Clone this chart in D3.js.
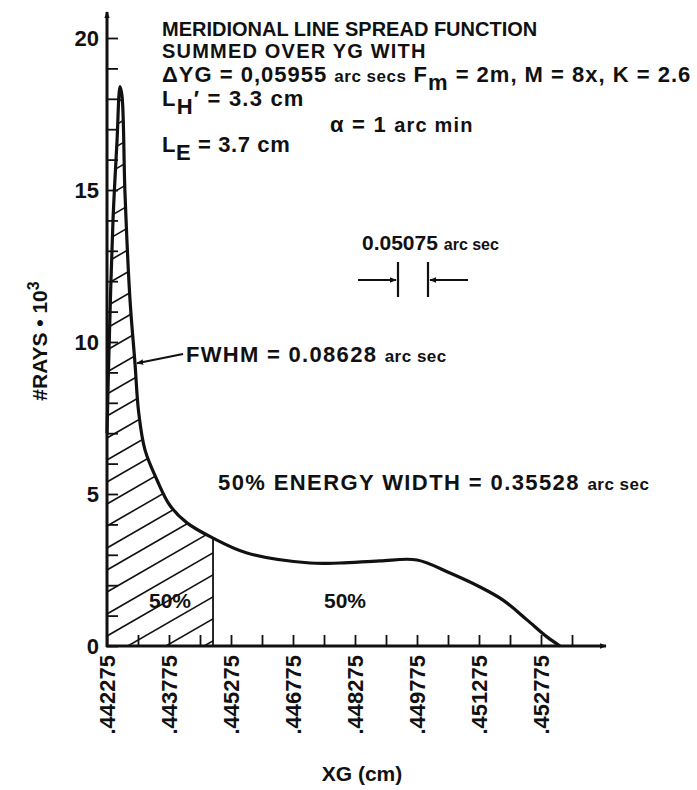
<!DOCTYPE html>
<html><head><meta charset="utf-8">
<script src="https://cdn.jsdelivr.net/npm/d3@7"></script>
<style>
body{margin:0;background:#fff}
text{font-family:"Liberation Sans",Arial,Helvetica,sans-serif;font-weight:bold;fill:#111}
</style>
</head><body><svg id="c" width="697" height="790"></svg>
<script>
// ---- data ----
const xTickValues = [0.442275,0.443775,0.445275,0.446775,0.448275,0.449775,0.451275,0.452775];
const xTickLabels = [".442275",".443775",".445275",".446775",".448275",".449775",".451275",".452775"];
const xMinorStep = 0.00075;
const yTickValues = [0,5,10,15,20];
const yTickLabels = ["0","5","10","15","20"];
const curveXG   = [0.442275,0.442323,0.442420,0.442517,0.442590,0.442638,0.442710,0.442831,0.442952,0.443040,0.443194,0.443485,0.443799,0.444210,0.444840,0.445662,0.447186,0.447912,0.448880,0.449775,0.450573,0.451300,0.451856,0.452436,0.452920,0.453235];
const curveRays = [7.0,9.7,14.0,16.6,18.4,18.1,14.9,11.4,9.3,7.7,6.45,5.46,4.62,4.05,3.55,3.06,2.73,2.73,2.80,2.83,2.40,1.94,1.51,0.86,0.30,0];
const halfEnergyXG = 0.444840;
const fwhmIndex = 8;

const svg = d3.select("#c");
const x = d3.scaleLinear().domain([0.442275, 0.453525]).range([107, 572]);
const y = d3.scaleLinear().domain([0, 20]).range([646, 38]);
const pts = curveXG.map((v,i)=>({x:v, y:curveRays[i]}));
const ink = "#111";
const curveType = d3.curveCatmullRom.alpha(0.5);

// arrow marker
const defs = svg.append("defs");
defs.append("marker").attr("id","ah").attr("viewBox","0 0 10 10").attr("refX",9).attr("refY",5)
  .attr("markerWidth",7).attr("markerHeight",7).attr("orient","auto-start-reverse").attr("markerUnits","userSpaceOnUse")
  .append("path").attr("d","M0,1 L10,5 L0,9 z").attr("fill",ink);

// hatched region (50% energy)
const hatchPts = pts.filter(p=>p.x<=halfEnergyXG);
const area = d3.area().x(d=>x(d.x)).y0(y(0)).y1(d=>y(d.y)).curve(curveType);
defs.append("clipPath").attr("id","hc").append("path").attr("d", area(hatchPts));
const hg = svg.append("g").attr("clip-path","url(#hc)");
const x0 = x.range()[0], x1 = x(halfEnergyXG);
const slope = Math.tan(Math.PI/6);
const hatchLines = d3.range(y.range()[1] - 40, y(0) + slope*(x1-x0) + 20, 22);
hg.selectAll("line").data(hatchLines).join("line")
  .attr("x1",x0).attr("y1",d=>d).attr("x2",x1+5).attr("y2",d=>d - slope*(x1+5-x0))
  .attr("stroke",ink).attr("stroke-width",1.6);
const hv = hatchPts[hatchPts.length-1];
svg.append("line").attr("x1",x(hv.x)).attr("x2",x(hv.x)).attr("y1",y(0)).attr("y2",y(hv.y))
  .attr("stroke",ink).attr("stroke-width",1.8);

// curve
const line = d3.line().x(d=>x(d.x)).y(d=>y(d.y)).curve(curveType);
svg.append("path").attr("d",line(pts)).attr("fill","none").attr("stroke",ink).attr("stroke-width",3.2).attr("stroke-linejoin","round");

// x axis: minor ticks inward
const xMinor = d3.range(0, 16).map(i=>0.442275 + i*xMinorStep);
const gx = svg.append("g").attr("transform",`translate(0,${y(0)})`)
  .call(d3.axisBottom(x).tickValues(xMinor).tickSize(-11).tickFormat("").tickSizeOuter(0));
gx.select(".domain").remove();
gx.selectAll(".tick line").attr("stroke",ink).attr("stroke-width",1.8);
svg.append("line").attr("x1",x.range()[0]-1).attr("x2",606).attr("y1",y(0)).attr("y2",y(0))
  .attr("stroke",ink).attr("stroke-width",3).attr("marker-end","url(#ah)");
const gxl = svg.append("g").attr("transform",`translate(0,${y(0)})`)
  .call(d3.axisBottom(x).tickValues(xTickValues).tickSize(0).tickFormat((d,i)=>xTickLabels[i]));
gxl.select(".domain").remove();
gxl.selectAll(".tick text").attr("transform","rotate(-90)").attr("text-anchor","end")
  .attr("x",-9).attr("y",0).attr("dy","0.36em").style("font-size","22px").style("font-family",null);

// y axis
const yMinor = d3.range(0, 21);
const gy = svg.append("g").attr("transform",`translate(${x.range()[0]},0)`)
  .call(d3.axisLeft(y).tickValues(yMinor).tickSize(-11).tickFormat("").tickSizeOuter(0));
gy.select(".domain").remove();
gy.selectAll(".tick line").attr("stroke",ink).attr("stroke-width",1.8);
svg.append("line").attr("x1",x.range()[0]).attr("x2",x.range()[0]).attr("y1",y(0)+1).attr("y2",12)
  .attr("stroke",ink).attr("stroke-width",3).attr("marker-end","url(#ah)");
const gyl = svg.append("g").attr("transform",`translate(${x.range()[0]},0)`)
  .call(d3.axisLeft(y).tickValues(yTickValues).tickSize(0).tickFormat((d,i)=>yTickLabels[i]));
gyl.select(".domain").remove();
gyl.selectAll(".tick text").attr("x",-8).style("font-size","22px").style("font-family",null);

// axis titles
svg.append("text").attr("transform","translate(47,341) rotate(-90)").attr("text-anchor","middle")
  .style("font-size","21px")
  .call(t=>{t.append("tspan").text("#RAYS • 10");t.append("tspan").attr("dy",-8).style("font-size","16px").text("3");});
svg.append("text").attr("x",362).attr("y",781).attr("text-anchor","middle").style("font-size","21px").text("XG (cm)");

// rich text helper
function rich(xp, yp, size, ls, parts){
  const t = svg.append("text").attr("x",xp).attr("y",yp).style("font-size",size).style("letter-spacing",ls+"px");
  parts.forEach(p=>{const s=t.append("tspan").text(p.t); if(p.s) s.style("font-size",p.s); if(p.dy) s.attr("dy",p.dy); if(p.ls!=null) s.style("letter-spacing",p.ls+"px");});
  return t;
}
// title block
rich(162,36,"20px",0,[{t:"MERIDIONAL LINE SPREAD FUNCTION"}]);
rich(162,58,"20px",1.2,[{t:"SUMMED OVER YG WITH"}]);
rich(162,82,"22px",1,[{t:"ΔYG = 0,05955 "},{t:"arc secs",s:"17px",ls:0.5},{t:" F"},{t:"m",dy:8},{t:" = 2m, M = 8x, K = 2.6",dy:-8}]);
rich(162,106,"22px",1.2,[{t:"L"},{t:"H",dy:8},{t:"′ = 3.3 cm",dy:-8}]);
rich(330,132,"22px",1.2,[{t:"α = 1 "},{t:"arc min",s:"20px"}]);
rich(162,152,"22px",0.6,[{t:"L"},{t:"E",dy:8},{t:" = 3.7 cm",dy:-8}]);

// measurement marker
rich(362,250,"21px",0,[{t:"0.05075 "},{t:"arc sec",s:"16px"}]);
[398,428].forEach(xx=>svg.append("line").attr("x1",xx).attr("x2",xx).attr("y1",262).attr("y2",297).attr("stroke",ink).attr("stroke-width",2.2));
svg.append("line").attr("x1",358).attr("x2",396).attr("y1",280).attr("y2",280).attr("stroke",ink).attr("stroke-width",2.2).attr("marker-end","url(#ah)");
svg.append("line").attr("x1",468).attr("x2",430).attr("y1",280).attr("y2",280).attr("stroke",ink).attr("stroke-width",2.2).attr("marker-end","url(#ah)");

// FWHM annotation
rich(186,362,"22px",1.3,[{t:"FWHM = 0.08628 "},{t:"arc sec",s:"17px",ls:0.5}]);
const fp = pts[fwhmIndex];
svg.append("line").attr("x1",183).attr("y1",354).attr("x2",x(fp.x)+2).attr("y2",y(fp.y)).attr("stroke",ink).attr("stroke-width",2).attr("marker-end","url(#ah)");

// 50% energy
rich(218,490,"22px",1.4,[{t:"50% ENERGY WIDTH = 0.35528 "},{t:"arc sec",s:"17px",ls:0.5}]);
svg.append("text").attr("x",170).attr("y",608).attr("text-anchor","middle").style("font-size","21px").text("50%");
svg.append("text").attr("x",345).attr("y",608).attr("text-anchor","middle").style("font-size","21px").text("50%");
</script></body></html>
